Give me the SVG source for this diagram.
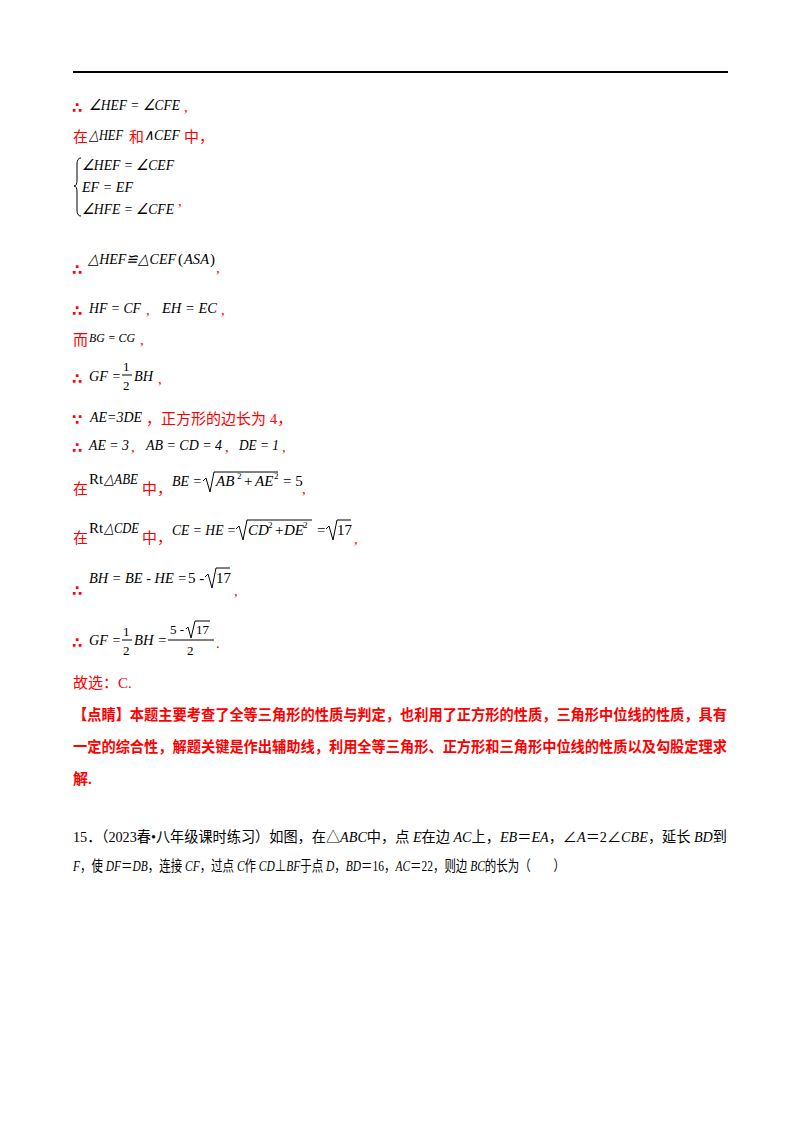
<svg xmlns="http://www.w3.org/2000/svg" width="800" height="1132" viewBox="0 0 800 1132">
<style>
.m{font-family:"Liberation Serif",serif;font-style:italic;font-size:15px;fill:#000}
.n{font-family:"Liberation Serif",serif;font-size:15px;fill:#000}
.s{font-family:"Liberation Serif",serif;font-size:9px;fill:#000}
.f{font-family:"Liberation Serif",serif;font-size:13px;fill:#000}
.r{font-family:"Liberation Serif","Noto Sans CJK SC",serif;font-size:15px;fill:#ff0000}
.t{font-family:"DejaVu Sans",sans-serif;font-size:15px;fill:#ff0000;font-weight:bold}
.rb{font-family:"Liberation Serif","Noto Sans CJK SC",sans-serif;font-size:15px;fill:#ff0000;font-weight:bold}
.k{font-family:"Liberation Serif","Noto Sans CJK SC",serif;font-size:14.5px;fill:#000}
.i{font-style:italic}
.ln{stroke:#000;stroke-width:1;fill:none}
</style>
<rect width="800" height="1132" fill="#fff"/>
<line x1="73" y1="72" x2="728" y2="72" stroke="#000" stroke-width="2"/>
<g id="content">
<text x="72" y="113" class="t">∴</text><text x="89" y="110" class="m" textLength="91" lengthAdjust="spacingAndGlyphs">∠HEF = ∠CFE</text><text x="184" y="112" class="r">,</text>
<text x="73" y="142" class="r">在</text><text x="89" y="140" class="m" textLength="34" lengthAdjust="spacingAndGlyphs">△HEF</text><text x="129" y="142" class="r">和</text><text x="144" y="140" class="m" textLength="36" lengthAdjust="spacingAndGlyphs">∧CEF</text><text x="184" y="142" class="r">中，</text>
<path class="ln" d="M81,158 Q77,158 77,164 L77,180 Q77,186 74,186 Q77,186 77,192 L77,210 Q77,216 81,216"/>
<text x="82" y="170" class="m" textLength="92" lengthAdjust="spacingAndGlyphs">∠HEF = ∠CEF</text>
<text x="82" y="192" class="m" textLength="51" lengthAdjust="spacingAndGlyphs">EF = EF</text>
<text x="82" y="214" class="m" textLength="92" lengthAdjust="spacingAndGlyphs">∠HFE = ∠CFE</text><text x="178" y="206" class="r">,</text>
<text x="72" y="275" class="t">∴</text><text x="88" y="264" class="m" textLength="88" lengthAdjust="spacingAndGlyphs">△HEF≌△CEF</text><text x="178" y="264" class="n">(</text><text x="184" y="264" class="m" textLength="25" lengthAdjust="spacingAndGlyphs">ASA</text><text x="210" y="264" class="n">)</text><text x="216" y="273" class="r">,</text>
<text x="72" y="316" class="t">∴</text><text x="89" y="313" class="m" textLength="52" lengthAdjust="spacingAndGlyphs">HF = CF</text><text x="146" y="315" class="r">,</text><text x="162" y="313" class="m" textLength="55" lengthAdjust="spacingAndGlyphs">EH = EC</text><text x="221" y="315" class="r">,</text>
<text x="73" y="345" class="r">而</text><text x="89" y="342" class="m" style="font-size:12px" textLength="46" lengthAdjust="spacingAndGlyphs">BG = CG</text><text x="140" y="345" class="r">,</text>
<text x="72" y="384" class="t">∴</text><text x="89" y="381" class="m" textLength="32" lengthAdjust="spacingAndGlyphs">GF =</text><text x="123" y="371" class="f">1</text><line x1="122" y1="375" x2="132" y2="375" stroke="#000"/><text x="123" y="390" class="f">2</text><text x="134" y="381" class="m" textLength="19" lengthAdjust="spacingAndGlyphs">BH</text><text x="158" y="384" class="r">,</text>
<text x="72" y="425" class="t">∵</text><text x="90" y="422" class="m" textLength="52" lengthAdjust="spacingAndGlyphs">AE=3DE</text><text x="146" y="424" class="r">，正方形的边长为 4，</text>
<text x="72" y="453" class="t">∴</text><text x="89" y="450" class="m" textLength="40" lengthAdjust="spacingAndGlyphs">AE = 3</text><text x="131" y="452" class="r">,</text><text x="146" y="450" class="m" textLength="76" lengthAdjust="spacingAndGlyphs">AB = CD = 4</text><text x="225" y="452" class="r">,</text><text x="239" y="450" class="m" textLength="40" lengthAdjust="spacingAndGlyphs">DE = 1</text><text x="282" y="452" class="r">,</text>
<text x="73" y="494" class="r">在</text><text x="89" y="484" class="n">Rt</text><text x="104" y="484" class="m" textLength="34" lengthAdjust="spacingAndGlyphs">△ABE</text><text x="142" y="494" class="r">中，</text>
<text x="172" y="486" class="m" textLength="30" lengthAdjust="spacingAndGlyphs">BE =</text><path class="ln" d="M203,481 L206,478 L210,492 L214,472 L278,472"/><text x="216" y="486" class="m">AB</text><text x="237" y="479" class="s">2</text><text x="244" y="486" class="n">+</text><text x="255" y="486" class="m">AE</text><text x="274" y="479" class="s">2</text><text x="283" y="486" class="n">= 5</text><text x="302" y="494" class="r">,</text>
<text x="73" y="543" class="r">在</text><text x="89" y="533" class="n">Rt</text><text x="104" y="533" class="m" textLength="35" lengthAdjust="spacingAndGlyphs">△CDE</text><text x="142" y="543" class="r">中，</text>
<text x="172" y="535" class="m" textLength="64" lengthAdjust="spacingAndGlyphs">CE = HE =</text><path class="ln" d="M236,529 L239,526 L243,540 L247,520 L312,520"/><text x="248" y="535" class="m">CD</text><text x="268" y="528" class="s">2</text><text x="275" y="535" class="n">+</text><text x="284" y="535" class="m">DE</text><text x="303" y="528" class="s">2</text><text x="317" y="535" class="n">=</text><path class="ln" d="M326,529 L329,526 L333,540 L337,520 L351,520"/><text x="337" y="535" class="n">17</text><text x="354" y="544" class="r">,</text>
<text x="72" y="596" class="t">∴</text><text x="89" y="583" class="m" textLength="98" lengthAdjust="spacingAndGlyphs">BH = BE - HE =</text><text x="188" y="583" class="n">5 -</text><path class="ln" d="M205,577 L208,574 L212,588 L216,568 L230,568"/><text x="216" y="583" class="n">17</text><text x="234" y="596" class="r">,</text>
<text x="72" y="648" class="t">∴</text><text x="89" y="645" class="m" textLength="32" lengthAdjust="spacingAndGlyphs">GF =</text><text x="123" y="636" class="f">1</text><line x1="122" y1="640" x2="132" y2="640" stroke="#000"/><text x="123" y="655" class="f">2</text><text x="134" y="645" class="m" textLength="33" lengthAdjust="spacingAndGlyphs">BH =</text><text x="170" y="634" class="f">5 -</text><path class="ln" d="M186,629 L188,627 L191,638 L195,621 L210,621"/><text x="196" y="634" class="f">17</text><line x1="168" y1="640" x2="214" y2="640" stroke="#000"/><text x="187" y="655" class="f">2</text><text x="216" y="648" class="r">.</text>
<text x="73" y="688" class="r">故选：C.</text>
<text x="73" y="720" class="rb" textLength="654" lengthAdjust="spacingAndGlyphs">【点睛】本题主要考查了全等三角形的性质与判定，也利用了正方形的性质，三角形中位线的性质，具有</text>
<text x="73" y="752" class="rb" textLength="654" lengthAdjust="spacingAndGlyphs">一定的综合性，解题关键是作出辅助线，利用全等三角形、正方形和三角形中位线的性质以及勾股定理求</text>
<text x="73" y="784" class="rb">解.</text>
<text x="73" y="842" class="k" textLength="654" lengthAdjust="spacingAndGlyphs">15．（2023春•八年级课时练习）如图，在△<tspan class="i">ABC</tspan>中，点 <tspan class="i">E</tspan>在边 <tspan class="i">AC</tspan>上，<tspan class="i">EB</tspan>＝<tspan class="i">EA</tspan>，∠<tspan class="i">A</tspan>＝2∠<tspan class="i">CBE</tspan>，延长 <tspan class="i">BD</tspan>到</text>
<text x="73" y="871" class="k" textLength="492" lengthAdjust="spacingAndGlyphs"><tspan class="i">F</tspan>，使 <tspan class="i">DF</tspan>＝<tspan class="i">DB</tspan>，连接 <tspan class="i">CF</tspan>，过点 <tspan class="i">C</tspan>作 <tspan class="i">CD</tspan>⊥<tspan class="i">BF</tspan>于点 <tspan class="i">D</tspan>，<tspan class="i">BD</tspan>＝16，<tspan class="i">AC</tspan>＝22，则边 <tspan class="i">BC</tspan>的长为（　　）</text>
</g>
</svg>
